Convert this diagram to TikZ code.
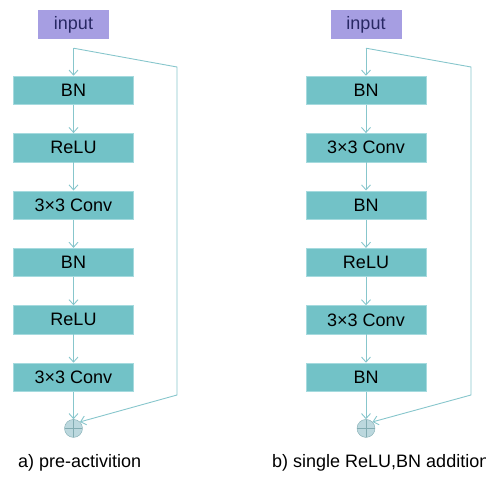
\documentclass[tikz,border=0pt]{standalone}
\usepackage{fontspec}
\setmainfont{Liberation Sans}
\usetikzlibrary{positioning,arrows.meta}
\definecolor{boxteal}{RGB}{114,194,199}
\definecolor{boxedge}{RGB}{165,218,222}
\definecolor{linkteal}{RGB}{135,198,204}
\definecolor{inlav}{RGB}{166,158,226}
\definecolor{intext}{RGB}{40,40,100}
\definecolor{plusfill}{RGB}{188,216,222}
\definecolor{plusedge}{RGB}{130,172,178}
\tikzstyle{layer}=[draw=boxedge,%
                   fill=boxteal,%
                   rectangle,%
                   line width    = 0.6pt,%
                   minimum width = 120.4pt,%
                   minimum height= 28.4pt,%
                   inner sep     = 0pt,%
                   font=\fontsize{18}{20}\selectfont,%
                   node distance = 28.4pt]
\tikzstyle{inbox}=[fill=inlav,text=intext,rectangle,minimum width=71pt,minimum height=29pt,inner sep=0pt,font=\fontsize{18}{20}\selectfont]
\tikzstyle{addnode}=[draw=plusedge,fill=plusfill,circle,minimum size=18pt,inner sep=0pt,
  path picture={\draw[plusedge] (path picture bounding box.north) -- (path picture bounding box.south)
                                (path picture bounding box.west) -- (path picture bounding box.east);}]
\tikzstyle{link}=[draw=linkteal,line width=0.9pt,-{Straight Barb[length=5pt,width=9pt]}]
\tikzstyle{caption}=[anchor=west,inner sep=0pt,font=\fontsize{18}{20}\selectfont]

\begin{document}
\begin{tikzpicture}
            \useasboundingbox (0pt,0pt) rectangle (486pt,-476pt);
            % a) pre-activition
            \node[inbox] (inA) at (73.5pt,-24.5pt) {input};
            \coordinate (splitA) at ([yshift=-9pt]inA.south);
            \node[layer][below=36.5pt of inA] (bnA1) {BN};
            \node[layer][below=of bnA1] (reluA1) {ReLU};
            \node[layer][below=of reluA1] (convA1) {3×3 Conv};
            \node[layer][below=of convA1] (bnA2) {BN};
            \node[layer][below=of bnA2] (reluA2) {ReLU};
            \node[layer][below=of reluA2] (convA2) {3×3 Conv};
            \node[addnode][below=27.5pt of convA2] (addA) {};
            \coordinate (skipA1) at (177pt,-67pt);
            \coordinate (skipA2) at (177pt,-395pt);
            \draw [link] (splitA) -- (bnA1);
            \draw [link] (bnA1) -- (reluA1);
            \draw [link] (reluA1) -- (convA1);
            \draw [link] (convA1) -- (bnA2);
            \draw [link] (bnA2) -- (reluA2);
            \draw [link] (reluA2) -- (convA2);
            \draw [link] (convA2) -- (addA);
            \draw [link] (splitA) -- (skipA1) -- (skipA2) -- (addA.north east);
            \node[caption] (capA) at (18pt,-463pt) {a) pre-activition};
            % b) single ReLU,BN addition
            \node[inbox] (inB) at (366pt,-24.5pt) {input};
            \coordinate (splitB) at ([yshift=-9pt]inB.south);
            \node[layer][below=36.5pt of inB] (bnB1) {BN};
            \node[layer][below=of bnB1] (convB1) {3×3 Conv};
            \node[layer][below=of convB1] (bnB2) {BN};
            \node[layer][below=of bnB2] (reluB1) {ReLU};
            \node[layer][below=of reluB1] (convB2) {3×3 Conv};
            \node[layer][below=of convB2] (bnB3) {BN};
            \node[addnode][below=27.5pt of bnB3] (addB) {};
            \coordinate (skipB1) at (471pt,-67pt);
            \coordinate (skipB2) at (471pt,-395pt);
            \draw [link] (splitB) -- (bnB1);
            \draw [link] (bnB1) -- (convB1);
            \draw [link] (convB1) -- (bnB2);
            \draw [link] (bnB2) -- (reluB1);
            \draw [link] (reluB1) -- (convB2);
            \draw [link] (convB2) -- (bnB3);
            \draw [link] (bnB3) -- (addB);
            \draw [link] (splitB) -- (skipB1) -- (skipB2) -- (addB.north east);
            \node[caption] (capB) at (272pt,-463pt) {b) single ReLU,BN addition};
\end{tikzpicture}
\end{document}
